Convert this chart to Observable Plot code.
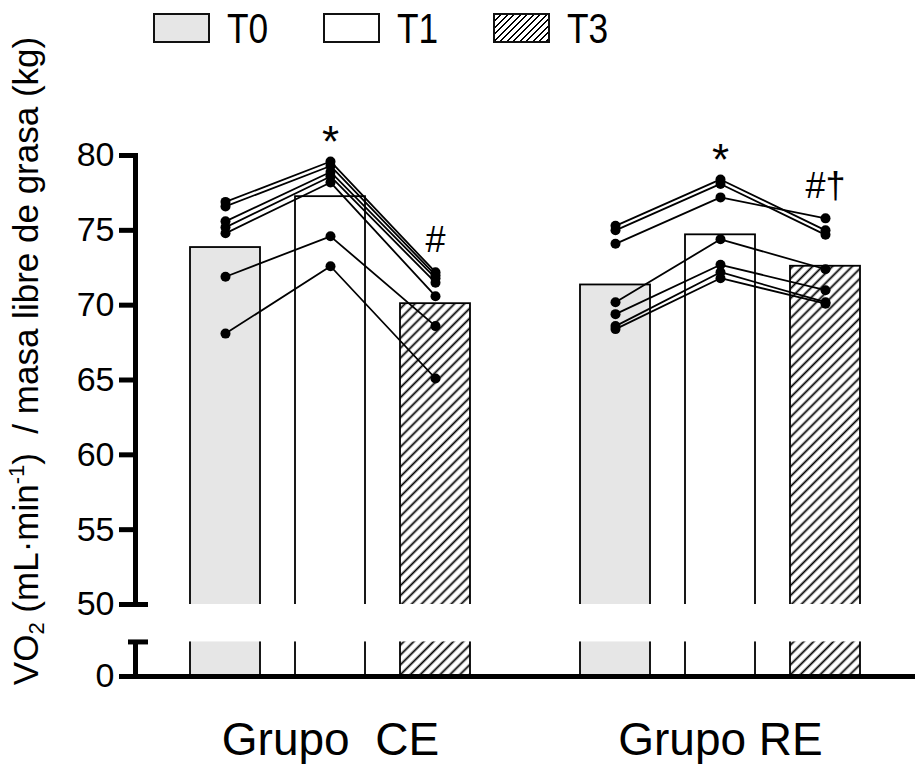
<!DOCTYPE html>
<html><head><meta charset="utf-8">
<script src="https://cdn.jsdelivr.net/npm/d3@7"></script>
<script src="https://cdn.jsdelivr.net/npm/@observablehq/plot@0.6"></script>
<style>
html,body{margin:0;padding:0;background:#fff;}
#wrap{position:relative;width:915px;height:764px;overflow:hidden;font-family:"Liberation Sans",Arial,sans-serif;color:#000;}
#legend{position:absolute;left:153px;top:13px;display:flex;align-items:center;height:30px;}
.sw{width:57px;height:30px;box-sizing:border-box;border:2px solid #111;}
.lb{width:96px;margin-left:17px;font-family:"Liberation Sans",Arial,sans-serif;font-size:43px;line-height:30px;}
.lb span{display:inline-block;transform:scaleX(0.82);transform-origin:0 50%;}
#ytitle{position:absolute;left:27px;top:361px;transform:translate(-50%,-50%) rotate(-90deg);white-space:nowrap;font-size:35px;line-height:1;}
#ytitle sub{font-size:22px;vertical-align:-6px;}
#ytitle sup{font-size:22px;vertical-align:14px;}
</style></head>
<body><div id="wrap"><div id="chart"></div><div id="legend"></div><div id="ytitle">VO<sub>2</sub> (mL·min<sup>-1</sup>)&nbsp; / masa libre de grasa (kg)</div></div>
<script>
// ---- data ----
const groups = ["Grupo  CE", "Grupo RE"];
const times = ["T0", "T1", "T3"];
const legendLabels = ["T0", "T1", "T3"];
const barCE = [73.85, 77.25, 70.1];
const barRE = [71.35, 74.7, 72.6];
// individual subjects (same index = same subject)
const ceT0 = [76.9, 76.6, 75.6, 75.2, 74.8, 71.9, 68.1];
const ceT1 = [79.6, 79.3, 78.9, 78.6, 78.2, 74.6, 72.6];
const ceT3 = [72.2, 72.0, 71.8, 71.5, 70.6, 68.6, 65.1];
const reT0 = [75.3, 75.0, 74.1, 70.2, 69.4, 68.6, 68.4];
const reT1 = [78.4, 78.1, 77.2, 74.4, 72.7, 72.2, 71.8];
const reT3 = [75.0, 74.7, 75.8, 72.4, 71.0, 70.2, 70.1];
const yTicks = [0, 55, 60, 65, 70, 75, 80];
const breakTick = [50];
const breakLow = 24, breakHigh = 50;
const starNotes = [{group: "Grupo  CE", time: "T1", label: "*"}, {group: "Grupo RE", time: "T1", label: "*"}];
const hashNotes = [{group: "Grupo  CE", time: "T3", label: "#"}, {group: "Grupo RE", time: "T3", label: "#†"}];

// ---- tables ----
const bars = [];
[barCE, barRE].forEach((arr, gi) => arr.forEach((v, ti) => bars.push({group: groups[gi], time: times[ti], value: v})));
const pts = [];
[[ceT0, ceT1, ceT3], [reT0, reT1, reT3]].forEach((arrs, gi) =>
  arrs.forEach((arr, ti) => arr.forEach((v, si) => pts.push({group: groups[gi], time: times[ti], subject: gi + "-" + si, value: v}))));
const topOf = (n) => ({...n, value: d3.max(pts.filter(p => p.group === n.group && p.time === n.time), p => p.value)});
const stars = starNotes.map(topOf);
const hashes = hashNotes.map(topOf);
const gap = [{low: breakLow, high: breakHigh}];

const svg = Plot.plot({
  width: 915, height: 764,
  marginTop: 155, marginBottom: 88, marginLeft: 134, marginRight: 0,
  style: {fontFamily: "'Liberation Sans', Arial, sans-serif", background: "white", color: "black", overflow: "visible"},
  fx: {domain: groups, padding: 0, label: null},
  x: {domain: times, paddingInner: 0.33, paddingOuter: 0.51, axis: null},
  y: {type: "linear", domain: [0, 50, 80], range: [676, 604, 155]},
  color: {type: "ordinal", domain: times, range: ["#e6e6e6", "#ffffff", "url(#hatch)"]},
  marks: [
    Plot.barY(bars, {fx: "group", x: "time", y: "value", fill: "time", stroke: "black", strokeWidth: 1.8}),
    Plot.frame({anchor: "left", facetAnchor: "left", strokeWidth: 5}),
    Plot.rect(gap, {y1: "low", y2: "high", fill: "white", insetLeft: -6}),
    Plot.ruleY([0], {strokeWidth: 5}),
    Plot.axisY(yTicks, {tickSize: 16, tickPadding: 5, strokeWidth: 5, fontSize: 34, label: null}),
    Plot.axisY(breakTick, {tickSize: 29, dx: 13, tickPadding: 5, strokeWidth: 5, fontSize: 34, label: null}),
    Plot.axisY([breakLow], {tickSize: 20, dx: 13, strokeWidth: 5, tickFormat: () => "", label: null}),
    Plot.line(pts, {fx: "group", x: "time", y: "value", z: "subject", stroke: "black", strokeWidth: 1.8}),
    Plot.dot(pts, {fx: "group", x: "time", y: "value", r: 5, fill: "black"}),
    Plot.text(stars, {fx: "group", x: "time", y: "value", text: "label", fontSize: 44, dy: -19}),
    Plot.text(hashes, {fx: "group", x: "time", y: "value", text: "label", fontSize: 36, dy: -32}),
    Plot.axisFx({anchor: "bottom", tickSize: 0, tickPadding: 46, fontSize: 46, label: null})
  ]
});

const defs = d3.select(svg).insert("defs", ":first-child");
const pat = defs.append("pattern").attr("id", "hatch").attr("patternUnits", "userSpaceOnUse")
  .attr("width", 7).attr("height", 7).attr("patternTransform", "rotate(45)");
pat.append("rect").attr("width", 7).attr("height", 7).attr("fill", "white");
pat.append("line").attr("x1", 3.5).attr("y1", 0).attr("x2", 3.5).attr("y2", 7).attr("stroke", "black").attr("stroke-width", 1.8);
document.getElementById("chart").appendChild(svg);

// legend
const swFills = {
  T0: "#e6e6e6",
  T1: "#ffffff",
  T3: "repeating-linear-gradient(135deg, #fff 0 3.2px, #000 3.2px 4.6px)"
};
const leg = document.getElementById("legend");
times.forEach((t, i) => {
  const sw = document.createElement("div");
  sw.className = "sw";
  sw.style.background = swFills[t];
  const lb = document.createElement("div");
  lb.className = "lb";
  const sp = document.createElement("span");
  sp.textContent = legendLabels[i];
  lb.appendChild(sp);
  leg.appendChild(sw); leg.appendChild(lb);
});
</script>
</body></html>
